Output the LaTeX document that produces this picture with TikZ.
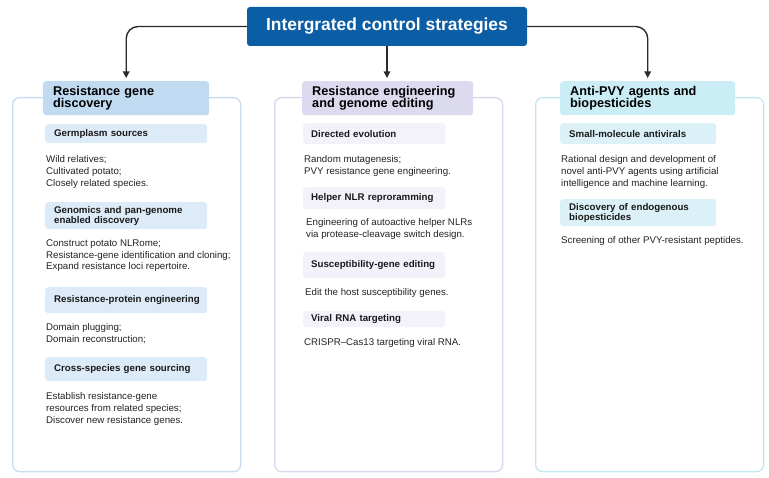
\documentclass[tikz,border=0pt]{standalone}
\usepackage{fontspec}
\setmainfont{Liberation Sans}
\usetikzlibrary{arrows.meta}
\hyphenpenalty=10000
\exhyphenpenalty=10000
\hbadness=10000
\hfuzz=20pt
\definecolor{titleblue}{HTML}{0B5EA6}
\definecolor{hAfill}{HTML}{C0DAF2}
\definecolor{pAdraw}{HTML}{C4DDF3}
\definecolor{sAfill}{HTML}{DDEBF8}
\definecolor{hBfill}{HTML}{DCDAEE}
\definecolor{pBdraw}{HTML}{D8D6EB}
\definecolor{sBfill}{HTML}{F3F2FB}
\definecolor{hCfill}{HTML}{CBEDF6}
\definecolor{pCdraw}{HTML}{C3E8F2}
\definecolor{sCfill}{HTML}{DBF0F7}
\definecolor{bodytext}{HTML}{222222}
\definecolor{arrowgray}{HTML}{2B2B2B}
\tikzset{
  titlebox/.style={fill=titleblue, rounded corners=3pt, text=white, inner sep=0pt,
    font=\fontsize{17.4}{20}\selectfont\bfseries, minimum width=280pt, minimum height=39pt},
  panel/.style={draw=#1, line width=1.3pt, rounded corners=7pt, inner sep=0pt,
    minimum width=228pt, minimum height=374pt, anchor=north west},
  headbox/.style={fill=#1, rounded corners=3pt, anchor=north west, inner xsep=10pt, inner ysep=0pt,
    align=left, font=\fontsize{12.7}{12.6}\selectfont\bfseries, minimum height=34pt},
  subbox/.style={fill=#1, rounded corners=3pt, anchor=north west, inner xsep=9pt, inner ysep=0pt,
    align=left, font=\fontsize{9.7}{10.4}\selectfont\bfseries, text=black!90},
  bodytxt/.style={anchor=north west, inner sep=0pt, align=left, text=bodytext,
    font=\fontsize{9.7}{11.7}\selectfont},
  conn/.style={draw=arrowgray, line width=1.4pt, rounded corners=12pt,
    -{Triangle[length=6.5pt,width=6.5pt]}, shorten >=3pt}
}
\begin{document}
\begin{tikzpicture}[x=1pt,y=-1pt]
\useasboundingbox (0,0) rectangle (769,478);
% panels
\node[panel=pAdraw] (pA) at (12,97) {};
\node[panel=pBdraw] (pB) at (274,97) {};
\node[panel=pCdraw] (pC) at (535,97) {};
% title
\node[titlebox] (title) at (387,26.5) {Intergrated control strategies};
% headers
\node[headbox=hAfill, minimum width=166pt, text width=146pt] (hA) at (43,81) {Resistance gene\\discovery};
\node[headbox=hBfill, minimum width=171pt, text width=151pt] (hB) at (302,81) {Resistance engineering\\and genome editing};
\node[headbox=hCfill, minimum width=175pt, text width=155pt] (hC) at (560,81) {Anti-PVY agents and\\biopesticides};
% connectors
\draw[conn] (title.west) -| (hA.north);
\draw[conn] (title.south) -- (title.south |- hB.north);
\draw[conn] (title.east) -| (hC.north);
% left column
\node[subbox=sAfill, minimum width=162pt, text width=144pt, minimum height=19pt] (a1) at (45,124) {Germplasm sources};
\node[bodytxt] (a1t) at (46,155.5) {Wild relatives;\\Cultivated potato;\\Closely related species.};
\node[subbox=sAfill, minimum width=162pt, text width=144pt, minimum height=27pt] (a2) at (45,202) {Genomics and pan-genome\\enabled discovery};
\node[bodytxt] (a2t) at (46,239.5) {Construct potato NLRome;\\Resistance-gene identification and cloning;\\Expand resistance loci repertoire.};
\node[subbox=sAfill, minimum width=162pt, text width=144pt, minimum height=26pt] (a3) at (45,287) {\mbox{Resistance-protein engineering}};
\node[bodytxt] (a3t) at (46,323.5) {Domain plugging;\\Domain reconstruction;};
\node[subbox=sAfill, minimum width=162pt, text width=144pt, minimum height=24pt] (a4) at (45,357) {Cross-species gene sourcing};
\node[bodytxt] (a4t) at (46,392.5) {Establish resistance-gene\\resources from related species;\\Discover new resistance genes.};
% middle column
\node[subbox=sBfill, minimum width=142pt, text width=126pt, inner xsep=8pt, minimum height=21pt] (b1) at (303,123) {Directed evolution};
\node[bodytxt] (b1t) at (304,155.5) {Random mutagenesis;\\PVY resistance gene engineering.};
\node[subbox=sBfill, minimum width=142pt, text width=126pt, inner xsep=8pt, minimum height=22pt] (b2) at (303,187) {Helper NLR reproramming};
\node[bodytxt] (b2t) at (306,218.5) {Engineering of autoactive helper NLRs\\via protease-cleavage switch design.};
\node[subbox=sBfill, minimum width=142pt, text width=126pt, inner xsep=8pt, minimum height=26pt] (b3) at (303,252) {Susceptibility-gene editing};
\node[bodytxt] (b3t) at (305,288.5) {Edit the host susceptibility genes.};
\node[subbox=sBfill, minimum width=142pt, text width=126pt, inner xsep=8pt, minimum height=16pt] (b4) at (303,311) {Viral RNA targeting};
\node[bodytxt] (b4t) at (304,338.5) {CRISPR–Cas13 targeting viral RNA.};
% right column
\node[subbox=sCfill, minimum width=156pt, text width=138pt, minimum height=21pt] (c1) at (560,123) {Small-molecule antivirals};
\node[bodytxt] (c1t) at (561,155.5) {Rational design and development of\\novel anti-PVY agents using artificial\\intelligence and machine learning.};
\node[subbox=sCfill, minimum width=156pt, text width=138pt, minimum height=27pt] (c2) at (560,199) {Discovery of endogenous\\biopesticides};
\node[bodytxt] (c2t) at (561,236.5) {Screening of other PVY-resistant peptides.};
\end{tikzpicture}
\end{document}
